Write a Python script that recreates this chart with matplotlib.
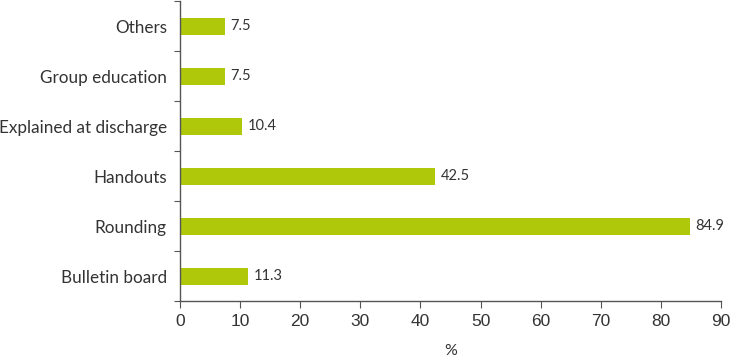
import matplotlib.pyplot as plt
import numpy as np

categories = ['Bulletin board', 'Rounding', 'Handouts', 'Explained at discharge',
              'Group education', 'Others']
values = [11.3, 84.9, 42.5, 10.4, 7.5, 7.5]
xticks = [0, 10, 20, 30, 40, 50, 60, 70, 80, 90]

bar_color = '#afc90a'
text_color = '#333333'

fig = plt.figure(figsize=(7.31, 3.57), dpi=100)
ax = fig.add_axes([0.2462, 0.1555, 0.7401, 0.8403])

y = np.arange(len(categories))
ax.barh(y, values, height=0.35, color=bar_color)

for yi, v in zip(y, values):
    ax.text(v + 0.9, yi, '%.1f' % v, va='center', ha='left',
            fontsize=10.5, color=text_color, family='Lato')

ax.set_xlim(0, 90)
ax.set_ylim(-0.5, len(categories) - 0.5)

ax.set_xticks(xticks)
ax.set_xticklabels([str(t) for t in xticks], family='Liberation Sans',
                   fontsize=12.5, color=text_color)

# category labels at centers, tick marks at boundaries
ax.set_yticks(np.arange(len(categories) + 1) - 0.5)
ax.set_yticklabels([])
ax.set_yticks(y, minor=True)
ax.set_yticklabels(categories, minor=True, family='Lato', fontsize=12.3,
                   color=text_color)
ax.tick_params(axis='y', which='minor', length=0, pad=9.5)
ax.tick_params(axis='y', which='major', length=4, color='#555555')
ax.tick_params(axis='x', length=5, color='#555555', pad=4)

for s in ['top', 'right']:
    ax.spines[s].set_visible(False)
for s in ['left', 'bottom']:
    ax.spines[s].set_color('#555555')
    ax.spines[s].set_linewidth(1.0)

ax.set_xlabel('%', family='Lato', fontsize=11.5, color=text_color, labelpad=11)

fig.savefig('out.png', dpi=100)
